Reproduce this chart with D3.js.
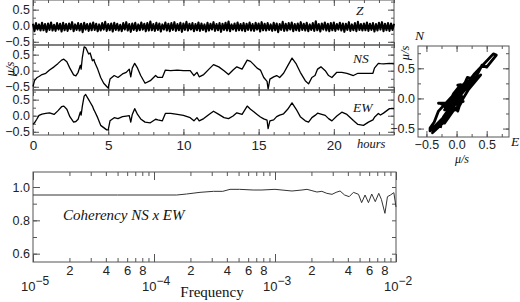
<!DOCTYPE html>
<html>
<head>
<meta charset="utf-8">
<script src="https://cdn.jsdelivr.net/npm/d3@7"></script>
<style>
  body { margin: 0; background: #fff; }
  svg { display: block; }
  .lab { font-family: 'Liberation Serif', 'Times New Roman', serif; font-style: italic; fill: #111; }
</style>
</head>
<body>
<svg id="chart" width="520" height="302"></svg>
<script>
// time series, hours and velocities in micro m/s
const hours = [0, 0.1, 0.25, 0.4, 0.6, 0.85, 1.1, 1.4, 1.65, 1.9, 2.05, 2.25, 2.45, 2.7, 2.85, 3.0, 3.15, 3.2, 3.28, 3.4, 3.5, 3.7, 3.8, 3.95, 4.05, 4.1, 4.3, 4.5, 4.7, 4.9, 5.0, 5.12, 5.4, 5.65, 5.95, 6.2, 6.4, 6.5, 6.6, 6.76, 6.95, 7.16, 7.45, 7.8, 8.15, 8.3, 8.6, 8.8, 9.15, 9.6, 10.0, 10.45, 10.7, 10.9, 11.05, 11.35, 11.7, 12.0, 12.35, 12.7, 13.0, 13.3, 13.55, 13.9, 14.24, 14.46, 14.68, 14.9, 15.12, 15.34, 15.56, 15.63, 15.75, 16.0, 16.2, 16.4, 16.66, 16.93, 17.22, 17.5, 17.77, 18.1, 18.32, 18.54, 18.75, 18.92, 19.14, 19.43, 19.65, 19.87, 20.2, 20.53, 20.87, 21.3, 21.6, 21.97, 22.3, 22.6, 22.7, 22.96, 23.1, 23.3, 23.7, 24.0]
const nsVel = [-0.49, -0.31, -0.22, -0.18, -0.12, -0.08, 0.02, 0.12, 0.22, 0.33, 0.36, 0.28, 0.08, -0.13, -0.16, -0.05, 0.17, 0.05, 0.41, 0.74, 0.72, 0.52, 0.55, 0.31, 0.35, 0.26, 0.05, -0.21, -0.39, -0.49, -0.54, -0.26, -0.15, -0.21, -0.10, -0.05, 0.05, -0.19, 0.08, 0.23, 0.08, -0.15, -0.39, -0.31, -0.15, -0.21, -0.21, 0.02, 0.00, 0.02, 0.00, 0.00, -0.15, -0.05, -0.19, -0.12, 0.05, 0.19, 0.12, 0.00, -0.12, 0.02, 0.12, 0.05, 0.33, 0.29, 0.19, 0.08, 0.02, -0.21, -0.33, -0.57, -0.26, -0.19, -0.15, -0.21, -0.08, 0.15, 0.39, 0.21, -0.05, -0.31, -0.41, -0.21, -0.15, 0.05, 0.12, 0.00, -0.15, -0.21, -0.05, -0.05, -0.08, -0.15, -0.08, -0.08, -0.08, -0.08, 0.08, 0.23, 0.22, 0.21, 0.23, 0.21]
const ewVel = [-0.27, -0.22, -0.11, 0.01, 0.05, 0.07, 0.09, 0.04, 0.15, 0.28, 0.30, 0.20, -0.03, -0.20, -0.18, -0.11, 0.12, 0.02, 0.30, 0.61, 0.66, 0.50, 0.42, 0.30, 0.18, 0.14, -0.06, -0.30, -0.37, -0.44, -0.44, -0.16, -0.06, -0.09, -0.03, -0.01, 0.00, -0.20, 0.04, 0.22, 0.04, -0.10, -0.20, -0.22, -0.11, -0.13, -0.16, 0.07, 0.07, 0.04, 0.01, -0.06, -0.16, -0.06, -0.16, -0.09, 0.04, 0.14, 0.04, -0.06, -0.09, -0.01, 0.09, 0.04, 0.30, 0.20, 0.12, 0.04, -0.04, -0.10, -0.14, -0.40, -0.16, -0.13, -0.03, 0.02, 0.06, 0.20, 0.40, 0.20, -0.03, -0.16, -0.20, -0.06, 0.01, 0.08, 0.05, 0.01, -0.09, -0.16, -0.01, 0.11, 0.04, -0.15, -0.27, -0.30, -0.20, -0.13, -0.05, 0.07, 0.02, 0.08, 0.22, 0.22]
// vertical component, one sample every 0.1 h
const zVel = [
  0.06, -0.17, 0.08, -0.12, 0.04, -0.15, 0.09, -0.14, 0.05, -0.19, 0.07, -0.13, 0.10, -0.15, 0.03, -0.16, 0.08, -0.12, 0.06, -0.18,
  0.09, -0.14, 0.05, -0.16, 0.07, -0.11, 0.11, -0.17, 0.04, -0.13, 0.08, -0.15, 0.06, -0.20, 0.09, -0.12, 0.05, -0.16, 0.07, -0.14,
  0.10, -0.13, 0.06, -0.17, 0.04, -0.15, 0.08, -0.12, 0.12, -0.16, 0.05, -0.14, 0.07, -0.18, 0.09, -0.13, 0.06, -0.15, 0.03, -0.17,
  0.08, -0.12, 0.11, -0.15, 0.05, -0.19, 0.07, -0.13, 0.09, -0.16, 0.04, -0.14, 0.10, -0.12, 0.06, -0.17, 0.08, -0.15, 0.13, -0.14,
  0.05, -0.16, 0.09, -0.13, 0.07, -0.18, 0.04, -0.12, 0.10, -0.15, 0.06, -0.17, 0.08, -0.13, 0.11, -0.16, 0.05, -0.14, 0.09, -0.19,
  0.07, -0.13, 0.12, -0.15, 0.06, -0.12, 0.08, -0.17, 0.05, -0.14, 0.10, -0.16, 0.07, -0.13, 0.04, -0.18, 0.09, -0.15, 0.06, -0.12,
  0.11, -0.16, 0.05, -0.14, 0.08, -0.19, 0.06, -0.13, 0.09, -0.15, 0.13, -0.17, 0.04, -0.12, 0.07, -0.16, 0.10, -0.14, 0.05, -0.15,
  0.08, -0.17, 0.06, -0.13, 0.10, -0.15, 0.05, -0.16, 0.09, -0.12, 0.07, -0.18, 0.11, -0.14, 0.06, -0.15, 0.08, -0.13, 0.04, -0.16,
  0.09, -0.14, 0.07, -0.20, 0.05, -0.13, 0.12, -0.16, 0.06, -0.15, 0.08, -0.12, 0.10, -0.17, 0.05, -0.14, 0.07, -0.16, 0.11, -0.13,
  0.06, -0.15, 0.09, -0.17, 0.04, -0.13, 0.08, -0.16, 0.14, -0.14, 0.05, -0.18, 0.07, -0.12, 0.10, -0.15, 0.06, -0.17, 0.08, -0.14,
  0.10, -0.16, 0.05, -0.12, 0.09, -0.15, 0.07, -0.19, 0.06, -0.13, 0.11, -0.16, 0.04, -0.14, 0.08, -0.17, 0.12, -0.13, 0.05, -0.15,
  0.07, -0.14, 0.10, -0.16, 0.06, -0.13, 0.08, -0.18, 0.05, -0.15, 0.09, -0.12, 0.11, -0.17, 0.06, -0.14, 0.08, -0.16, 0.07, -0.13, 0.06
]
const panelNames = ['Z', 'NS', 'EW']
const hourLabels = [0, 5, 10, 15, 20]

// coherency NS x EW
const freq = [1e-5, 5e-5, 1e-4, 1.54e-4, 1.86e-4, 2.4e-4, 3.1e-4, 3.7e-4, 4.25e-4, 5.1e-4, 6.6e-4, 7.8e-4, 1.0e-3, 1.38e-3, 1.67e-3, 1.84e-3, 2.02e-3, 2.22e-3, 2.44e-3, 2.68e-3, 2.96e-3, 3.2e-3, 3.45e-3, 3.76e-3, 4.1e-3, 4.45e-3, 4.9e-3, 5.2e-3, 5.55e-3, 5.92e-3, 6.3e-3, 6.74e-3, 7.2e-3, 7.57e-3, 8.1e-3, 8.5e-3, 9.0e-3, 9.6e-3, 1.0e-2]
const coherency = [0.952, 0.952, 0.952, 0.952, 0.958, 0.968, 0.974, 0.974, 0.986, 0.986, 0.982, 0.982, 0.986, 0.976, 0.982, 0.986, 0.978, 0.970, 0.974, 0.962, 0.956, 0.968, 0.976, 0.952, 0.942, 0.968, 0.956, 0.906, 0.952, 0.906, 0.958, 0.912, 0.962, 0.926, 0.842, 0.942, 0.952, 0.966, 0.880]

const svg = d3.select('#chart')
const frameColor = '#555'
const sans = "'Liberation Sans', Arial, sans-serif"

function addAxis (axis, tf, size) {
  const a = svg.append('g').attr('transform', tf).call(axis)
  a.select('.domain').remove()
  a.selectAll('line').attr('stroke', frameColor)
  a.attr('font-family', sans).attr('font-size', size || 12)
  a.selectAll('text').attr('fill', '#222')
  return a
}

function frame (x0, y0, w, h) {
  svg.append('rect')
    .attr('x', x0).attr('y', y0).attr('width', w).attr('height', h)
    .attr('fill', 'none').attr('stroke', frameColor)
}

/* time panels */
const x = d3.scaleLinear().domain([0, 24]).range([33, 394])
const panelH = 45
const zHours = zVel.map((d, i) => i * 24 / (zVel.length - 1))
const panelData = [
  zVel.map((v, i) => [zHours[i], v]),
  nsVel.map((v, i) => [hours[i], v]),
  ewVel.map((v, i) => [hours[i], v])
]

panelData.forEach((data, i) => {
  const top = i * panelH
  const y = d3.scaleLinear().domain([-0.6, 0.8]).range([top + panelH, top])

  addAxis(d3.axisTop(x).tickValues(d3.range(0, 25)).tickSize(-3).tickFormat(''), `translate(0,${top})`)
  addAxis(d3.axisTop(x).tickValues(hourLabels).tickSize(-6).tickFormat(''), `translate(0,${top})`)
  addAxis(d3.axisBottom(x).tickValues(d3.range(0, 25)).tickSize(-3).tickFormat(''), `translate(0,${top + panelH})`)
  addAxis(d3.axisBottom(x).tickValues(hourLabels).tickSize(-6).tickFormat(''), `translate(0,${top + panelH})`)
  addAxis(d3.axisLeft(y).tickValues([-0.5, -0.25, 0, 0.25, 0.5, 0.75]).tickSize(-3).tickFormat(''), 'translate(33,0)')
  addAxis(d3.axisLeft(y).tickValues([-0.5, 0, 0.5]).tickSize(-6).tickPadding(3).tickFormat(d3.format('.1f')), 'translate(33,0)', 12.5)
  addAxis(d3.axisRight(y).tickValues([-0.5, -0.25, 0, 0.25, 0.5, 0.75]).tickSize(-3).tickFormat(''), 'translate(394,0)')
  addAxis(d3.axisRight(y).tickValues([-0.5, 0, 0.5]).tickSize(-6).tickFormat(''), 'translate(394,0)')

  frame(33, top, 361, panelH)

  svg.append('path')
    .datum(data)
    .attr('fill', 'none')
    .attr('stroke', '#000')
    .attr('stroke-width', i === 0 ? 2.1 : 1.3)
    .attr('stroke-linejoin', 'round')
    .attr('d', d3.line().x(d => x(d[0])).y(d => y(d[1])))

  svg.append('text')
    .attr('class', 'lab')
    .attr('x', i === 0 ? 356 : 353)
    .attr('y', top + [15, 18, 22][i])
    .attr('font-size', 13.5)
    .text(panelNames[i])
})

addAxis(d3.axisBottom(x).tickValues(hourLabels).tickSize(0).tickPadding(5), `translate(0,${3 * panelH})`, 13.5)

svg.append('text').attr('class', 'lab')
  .attr('x', 357).attr('y', 148).attr('font-size', 12.5)
  .text('hours')

svg.append('text').attr('class', 'lab')
  .attr('transform', 'translate(14,69) rotate(-90)')
  .attr('text-anchor', 'middle').attr('font-size', 12.5)
  .text('μ/s')

/* hodogram EW vs NS */
const xs = d3.scaleLinear().domain([-0.64, 0.87]).range([418, 509])
const ys = d3.scaleLinear().domain([-0.64, 0.87]).range([137, 46])
const quarter = [-0.5, -0.25, 0, 0.25, 0.5, 0.75]
const half = [-0.5, 0, 0.5]

addAxis(d3.axisTop(xs).tickValues(quarter).tickSize(-3).tickFormat(''), 'translate(0,46)')
addAxis(d3.axisTop(xs).tickValues(half).tickSize(-6).tickFormat(''), 'translate(0,46)')
addAxis(d3.axisBottom(xs).tickValues(quarter).tickSize(-3).tickFormat(''), 'translate(0,137)')
addAxis(d3.axisBottom(xs).tickValues(half).tickSize(-6).tickPadding(3).tickFormat(d3.format('.1f')), 'translate(0,137)', 12.5)
addAxis(d3.axisLeft(ys).tickValues(quarter).tickSize(-3).tickFormat(''), 'translate(418,0)')
addAxis(d3.axisLeft(ys).tickValues(half).tickSize(-6).tickPadding(3).tickFormat(d3.format('.1f')), 'translate(418,0)', 12.5)
addAxis(d3.axisRight(ys).tickValues(quarter).tickSize(-3).tickFormat(''), 'translate(509,0)')
addAxis(d3.axisRight(ys).tickValues(half).tickSize(-6).tickFormat(''), 'translate(509,0)')

frame(418, 46, 91, 91)

svg.append('path')
  .datum(hours.map((h, i) => [ewVel[i], nsVel[i]]))
  .attr('fill', 'none')
  .attr('stroke', '#000')
  .attr('stroke-width', 2.8)
  .attr('stroke-linejoin', 'round')
  .attr('d', d3.line().x(d => xs(d[0])).y(d => ys(d[1])))

svg.append('text').attr('class', 'lab').attr('x', 415).attr('y', 40).attr('font-size', 13.5).text('N')
svg.append('text').attr('class', 'lab').attr('x', 511).attr('y', 146).attr('font-size', 13.5).text('E')
svg.append('text').attr('class', 'lab')
  .attr('x', 462).attr('y', 163).attr('text-anchor', 'middle').attr('font-size', 12)
  .text('μ/s')
svg.append('text').attr('class', 'lab')
  .attr('transform', 'translate(409,53) rotate(-90)')
  .attr('text-anchor', 'middle').attr('font-size', 12.5)
  .text('μ/s')

/* coherency panel */
const xl = d3.scaleLog().domain([1e-5, 1e-2]).range([33, 396])
const yc = d3.scaleLinear().domain([0.55, 1.09]).range([262, 172])
const mant = d => Math.round(d / Math.pow(10, Math.floor(Math.log10(d) + 1e-9)))
const logTicks = xl.ticks()
const decades = logTicks.filter(d => mant(d) === 1)

addAxis(d3.axisTop(xl).tickValues(logTicks).tickSize(-4).tickFormat(''), 'translate(0,172)')
addAxis(d3.axisTop(xl).tickValues(decades).tickSize(-8).tickFormat(''), 'translate(0,172)')
addAxis(d3.axisBottom(xl).tickValues(logTicks).tickSize(-4).tickFormat(''), 'translate(0,262)')
addAxis(d3.axisBottom(xl).tickValues(decades).tickSize(-8).tickFormat(''), 'translate(0,262)')
addAxis(d3.axisBottom(xl).tickValues(logTicks.filter(d => [2, 4, 6, 8].includes(mant(d)))).tickSize(0).tickPadding(4).tickFormat(mant), 'translate(0,262)', 13)
addAxis(d3.axisLeft(yc).tickValues([0.6, 0.7, 0.8, 0.9, 1.0]).tickSize(-4).tickFormat(''), 'translate(33,0)')
addAxis(d3.axisLeft(yc).tickValues([0.6, 0.8, 1.0]).tickSize(-7).tickPadding(3).tickFormat(d3.format('.1f')), 'translate(33,0)', 12.5)
addAxis(d3.axisRight(yc).tickValues([0.6, 0.7, 0.8, 0.9, 1.0]).tickSize(-4).tickFormat(''), 'translate(396,0)')

frame(33, 172, 363, 90)

svg.selectAll('text.dec')
  .data(decades)
  .enter()
  .append('text')
  .attr('class', 'dec')
  .attr('x', d => xl(d) + 2)
  .attr('y', 291)
  .attr('text-anchor', 'middle')
  .attr('font-family', sans)
  .attr('font-size', 13)
  .attr('fill', '#222')
  .each(function (d) {
    const t = d3.select(this)
    t.append('tspan').text('10')
    t.append('tspan').attr('dy', -6).attr('font-size', 12).text('−' + Math.round(-Math.log10(d)))
  })

svg.append('path')
  .datum(freq.map((f, i) => [f, coherency[i]]))
  .attr('fill', 'none')
  .attr('stroke', '#333')
  .attr('stroke-width', 1)
  .attr('d', d3.line().x(d => xl(d[0])).y(d => yc(d[1])))

svg.append('text').attr('class', 'lab')
  .attr('x', 63).attr('y', 220).attr('font-size', 15)
  .text('Coherency NS x EW')

svg.append('text')
  .attr('x', 212).attr('y', 297).attr('text-anchor', 'middle')
  .attr('font-family', "'Liberation Serif', 'Times New Roman', serif")
  .attr('font-size', 15).attr('fill', '#111')
  .text('Frequency')
</script>
</body>
</html>
